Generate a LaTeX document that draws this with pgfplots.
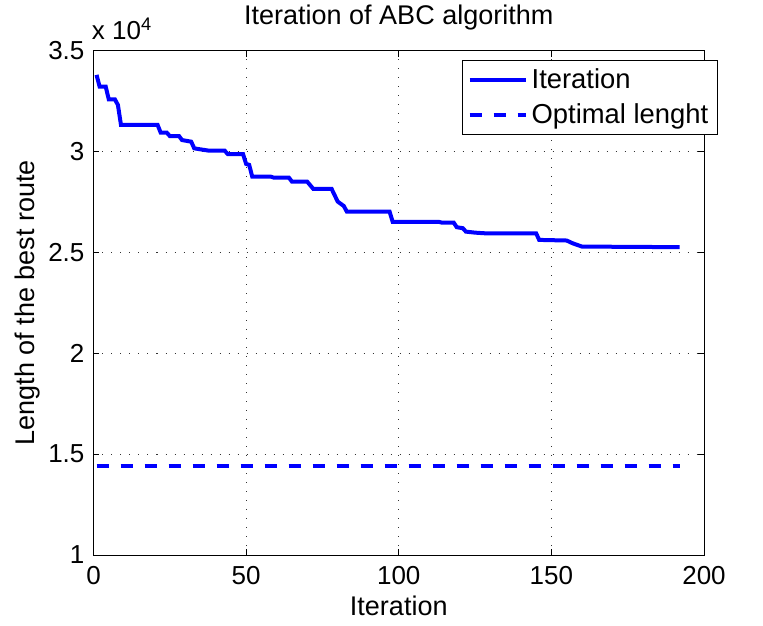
\documentclass[border=0pt]{standalone}
\usepackage{pgfplots}
\pgfplotsset{compat=1.18}
\usepackage{fontspec}
\setmainfont{Liberation Sans}
\definecolor{mblue}{RGB}{0,0,255}
\begin{document}
\begin{tikzpicture}
\path[use as bounding box] (-46.75pt,-35pt) rectangle ++(381.5pt,312.5pt);
\begin{axis}[
  at={(0,0)}, anchor=south west,
  scale only axis, width=305.25pt, height=252.15pt,
  xmin=0, xmax=200, ymin=10000, ymax=35000,
  xtick={0,50,100,150,200},
  ytick={10000,15000,20000,25000,30000,35000},
  scaled y ticks=base 10:-4,
  ytick scale label code/.code={x 10\textsuperscript{4}},
  every y tick scale label/.style={at={(0,1)}, anchor=base west, inner sep=0pt, yshift=5.5pt, font=\fontsize{13}{15}\selectfont},
  /pgf/number format/assume math mode=true,
  tick label style={font=\fontsize{13}{15}\selectfont},
  xticklabel style={yshift=-2pt},
  yticklabel style={xshift=-1pt},
  tick align=inside, major tick length=3pt,
  xtick pos=both, ytick pos=both,
  axis line style={line width=0.5pt},
  every tick/.style={black, line width=0.5pt},
  grid=major,
  grid style={black!80, line width=0.5pt, dash pattern=on 0.5pt off 4pt},
  every axis title shift=0pt,
  title={Iteration of ABC algorithm},
  title style={at={(0.5,1.0397)}, anchor=south, inner sep=0pt, font=\fontsize{13.5}{16}\selectfont},
  xlabel={Iteration},
  xlabel style={at={(0.5,-0.0813)}, anchor=north, inner sep=0pt, font=\fontsize{13.5}{16}\selectfont},
  ylabel={Length of the best route},
  ylabel style={at={(-0.0876,0.5)}, anchor=south, rotate=0, inner sep=0pt, font=\fontsize{13.5}{16}\selectfont},
  legend style={at={(1.0226,0.9816)}, anchor=north east, draw=black, line width=0.5pt,
    font=\fontsize{13.7}{16}\selectfont, inner xsep=2.5pt, inner ysep=2pt, row sep=2pt,
    cells={anchor=west}},
  legend image code/.code={\draw[#1] (0pt,0pt) -- (28pt,0pt);},
  legend cell align=left,
]
\addplot[mblue, line width=2pt] coordinates {
(1,33800) (2,33220) (4,33220) (5,32590) (7,32590) (8,32310) (9,31320) (21,31320)
(22,30940) (24,30940) (25,30770) (28,30770) (29,30570) (32,30490) (33,30160) (35,30110)
(38,30040) (43,30040) (44,29870) (49,29870) (50,29390) (51,29340) (52,28760) (58,28760)
(59,28710) (64,28710) (65,28510) (70,28510) (72,28150) (78,28150) (80,27520) (82,27300)
(83,27020) (97,27020) (98,26520) (113,26520) (114,26480) (118,26480) (119,26250) (121,26200)
(122,26030) (125,25980) (128,25950) (145,25950) (146,25620) (155,25590) (157,25450) (160,25290)
(192,25260)
};
\addlegendentry{Iteration}
\addplot[mblue, line width=2pt, dash pattern=on 6pt off 6pt] coordinates {
(1,14390) (192,14390)
};
\addlegendentry{Optimal lenght}
\end{axis}
\end{tikzpicture}
\end{document}
